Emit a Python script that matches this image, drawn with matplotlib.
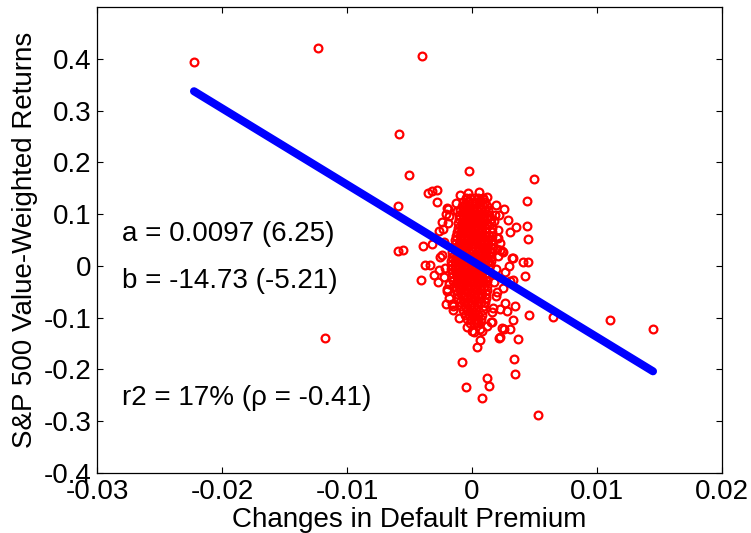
import numpy as np
import matplotlib
matplotlib.use("Agg")
import matplotlib.pyplot as plt

plt.rcParams["font.family"] = ["Liberation Sans", "DejaVu Sans"]

# ---- regression results shown on the chart ----
alpha, alpha_t = 0.0097, 6.25
beta, beta_t = -14.73, -5.21
r2_pct, rho = 17, -0.41

# ---- scattered observations (change in default premium, S&P 500 VW return) ----
dp_out = [-0.02224, -0.01232, -0.00400, -0.00584, -0.00504, -0.01176, -0.00352, -0.00320,
          -0.00280, -0.00592, -0.00592, -0.00552, -0.00392, -0.00320, -0.00264, -0.00240,
          -0.00184, -0.00192, -0.00128, -0.00096, -0.00024, 0.00024, 0.00088, 0.00072,
          0.00120, -0.00056, -0.00120, -0.00256, -0.00376, -0.00336, -0.00408, -0.00304,
          -0.00272, -0.00200, -0.00264, -0.00208, -0.00160, -0.00152, -0.00080, -0.00048,
          0.00080, 0.00120, 0.00136, 0.00000, 0.00064, 0.00040, 0.00160, 0.00224,
          0.00256, 0.00304, 0.00328, 0.00368, 0.00336, 0.00344, 0.00528, 0.00456,
          0.00648, 0.00424, 0.00448, 0.00304, 0.00208, 0.00408, 0.00448, 0.00328,
          0.00296, 0.00264, 0.00304, 0.00344, 0.00280, 0.00224, 0.00168, 0.00152,
          0.00048, 0.00024, 0.00496, 0.00440, 0.00256, 0.00440, 0.00352, 0.00240,
          0.00320, 0.00328, 0.01104, 0.01448, 0.00264, 0.00200, 0.00224, 0.00248,
          0.00248, 0.00200, 0.00240, 0.00216, 0.00032, -0.00204, -0.00072, -0.00280,
          0.00180, 0.00290]
ret_out = [0.394, 0.420, 0.406, 0.255, 0.175, -0.139, 0.140, 0.144,
           0.146, 0.115, 0.028, 0.030, 0.038, 0.042, 0.067, 0.084,
           0.096, 0.109, 0.121, 0.137, 0.183, 0.123, 0.129, 0.109,
           0.080, 0.119, 0.106, 0.018, 0.001, 0.001, -0.028, -0.018,
           -0.032, -0.044, -0.007, -0.073, -0.073, -0.078, -0.185, -0.234,
           -0.255, -0.216, -0.232, -0.125, -0.144, -0.156, -0.109, -0.137,
           -0.121, -0.121, -0.104, -0.141, -0.179, -0.208, -0.288, -0.094,
           -0.098, -0.020, 0.051, 0.065, 0.053, 0.007, 0.007, 0.015,
           -0.001, -0.011, -0.030, -0.077, -0.088, -0.084, -0.082, -0.108,
           -0.104, -0.092, 0.168, 0.125, 0.109, 0.078, 0.075, 0.028,
           0.015, -0.028, -0.104, -0.121, -0.071, 0.053, 0.030, 0.026,
           -0.042, -0.051, -0.119, -0.139, -0.108, 0.111, 0.108, 0.123,
           0.098, 0.088]

# ---- observations on the rim of the dense core ----
dp_edge = [-0.00210, -0.00232, -0.00221, -0.00242, -0.00213, -0.00224, -0.00201, -0.00183,
           -0.00152, -0.00108, 0.00193, 0.00212, 0.00204, 0.00222, 0.00209, 0.00191,
           0.00178, 0.00188, 0.00161, 0.00118, 0.00082, -0.00031, 0.00052, 0.00121,
           -0.00042, 0.00019, 0.00061, -0.00196, 0.00201, -0.00187, 0.00172]
ret_edge = [0.100, 0.071, 0.046, 0.021, -0.004, -0.021, -0.049, -0.062,
            -0.085, -0.100, 0.118, 0.099, 0.069, 0.044, 0.019, -0.006,
            -0.031, -0.058, -0.089, -0.116, -0.126, 0.141, 0.143, 0.134,
            -0.118, -0.128, -0.121, 0.083, 0.033, -0.035, 0.086]

# ---- dense core of observations around zero, row by row (return, [premium changes]) ----
core_rows = [
    (0.131, [-0.00050, -0.00018, 0.00015, 0.00047, 0.00088]),
    (0.123, [-0.00071, -0.00036, 0.00002, 0.00031, 0.00066, 0.00105]),
    (0.115, [-0.00083, -0.00049, -0.00015, 0.00019, 0.00052, 0.00084, 0.00118]),
    (0.107, [-0.00094, -0.00060, -0.00027, 0.00008, 0.00040, 0.00071, 0.00101, 0.00129]),
    (0.098, [-0.00102, -0.00069, -0.00035, -0.00001, 0.00033, 0.00066, 0.00098, 0.00136]),
    (0.090, [-0.00106, -0.00075, -0.00043, -0.00011, 0.00022, 0.00054, 0.00087, 0.00118, 0.00148]),
    (0.083, [-0.00113, -0.00079, -0.00046, -0.00014, 0.00019, 0.00051, 0.00083, 0.00116, 0.00151]),
    (0.074, [-0.00116, -0.00083, -0.00050, -0.00018, 0.00015, 0.00048, 0.00080, 0.00113, 0.00157]),
    (0.066, [-0.00121, -0.00088, -0.00056, -0.00022, 0.00011, 0.00044, 0.00077, 0.00110, 0.00158]),
    (0.058, [-0.00128, -0.00095, -0.00062, -0.00029, 0.00004, 0.00037, 0.00069, 0.00102, 0.00133, 0.00160]),
    (0.050, [-0.00133, -0.00099, -0.00066, -0.00033, 0.00000, 0.00033, 0.00066, 0.00099, 0.00131, 0.00162]),
    (0.042, [-0.00140, -0.00106, -0.00072, -0.00039, -0.00006, 0.00027, 0.00060, 0.00093, 0.00126, 0.00159]),
    (0.034, [-0.00148, -0.00114, -0.00080, -0.00046, -0.00012, 0.00021, 0.00055, 0.00088, 0.00122, 0.00157]),
    (0.026, [-0.00157, -0.00124, -0.00090, -0.00056, -0.00023, 0.00011, 0.00045, 0.00078, 0.00112, 0.00145, 0.00163]),
    (0.018, [-0.00161, -0.00127, -0.00093, -0.00059, -0.00026, 0.00008, 0.00042, 0.00076, 0.00110, 0.00148]),
    (0.010, [-0.00168, -0.00134, -0.00100, -0.00066, -0.00032, 0.00002, 0.00036, 0.00070, 0.00104, 0.00130, 0.00151]),
    (0.002, [-0.00170, -0.00136, -0.00102, -0.00068, -0.00034, 0.00000, 0.00034, 0.00068, 0.00102, 0.00140]),
    (-0.006, [-0.00169, -0.00135, -0.00101, -0.00067, -0.00033, 0.00001, 0.00035, 0.00069, 0.00103, 0.00137]),
    (-0.014, [-0.00163, -0.00129, -0.00095, -0.00061, -0.00027, 0.00007, 0.00041, 0.00075, 0.00109, 0.00131]),
    (-0.022, [-0.00158, -0.00124, -0.00090, -0.00056, -0.00022, 0.00012, 0.00046, 0.00080, 0.00114, 0.00128]),
    (-0.030, [-0.00150, -0.00117, -0.00083, -0.00049, -0.00015, 0.00019, 0.00053, 0.00087, 0.00121]),
    (-0.038, [-0.00141, -0.00108, -0.00074, -0.00040, -0.00006, 0.00028, 0.00062, 0.00096, 0.00119]),
    (-0.046, [-0.00131, -0.00097, -0.00063, -0.00029, 0.00005, 0.00039, 0.00073, 0.00117]),
    (-0.054, [-0.00121, -0.00087, -0.00053, -0.00019, 0.00015, 0.00049, 0.00083, 0.00112]),
    (-0.062, [-0.00110, -0.00076, -0.00042, -0.00008, 0.00026, 0.00060, 0.00108]),
    (-0.070, [-0.00099, -0.00065, -0.00031, 0.00003, 0.00037, 0.00071, 0.00102]),
    (-0.078, [-0.00088, -0.00054, -0.00020, 0.00014, 0.00048, 0.00097]),
    (-0.086, [-0.00072, -0.00038, -0.00004, 0.00030, 0.00089]),
    (-0.094, [-0.00058, -0.00024, 0.00010, 0.00044, 0.00080]),
    (-0.102, [-0.00040, -0.00006, 0.00028, 0.00068]),
    (-0.110, [-0.00020, 0.00014, 0.00048]),
]

xticks = [-0.03, -0.02, -0.01, 0, 0.01, 0.02]
yticks = [-0.4, -0.3, -0.2, -0.1, 0, 0.1, 0.2, 0.3, 0.4]

# ---------------------------------------------------------------------------
dp = list(dp_out) + list(dp_edge)
ret = list(ret_out) + list(ret_edge)
for r, xs in core_rows:
    dp += xs
    ret += [r] * len(xs)
dp = np.array(dp)
ret = np.array(ret)

fig = plt.figure(figsize=(7.51, 5.33), dpi=100)
ax = fig.add_axes([97 / 751, 60 / 533, 625 / 751, 466 / 533])

ax.plot(dp, ret, "o", linestyle="none", markerfacecolor="none",
        markeredgecolor="#ff0000", markersize=5.6, markeredgewidth=1.6)

# fitted line over the data range
x_fit = np.array([dp.min(), dp.max()])
ax.plot(x_fit, alpha + beta * x_fit, color="#0000ff", linewidth=5.8,
        solid_capstyle="round")

ax.set_xlim(-0.03, 0.02)
ax.set_ylim(-0.4, 0.5)
ax.set_xticks(xticks)
ax.set_xticklabels(["-0.03", "-0.02", "-0.01", "0", "0.01", "0.02"])
ax.set_yticks(yticks)
ax.set_yticklabels(["-0.4", "-0.3", "-0.2", "-0.1", "0", "0.1", "0.2", "0.3", "0.4"])
ax.tick_params(direction="in", length=4, width=0.8, labelsize=20,
               top=True, right=True, pad=4)
for sp in ax.spines.values():
    sp.set_linewidth(0.9)

ax.set_xlabel("Changes in Default Premium", fontsize=20, labelpad=2)
ax.set_ylabel("S&P 500 Value-Weighted Returns", fontsize=20, labelpad=4)

ax.text(-0.02802, 0.061, f"a = {alpha:.4f} ({alpha_t:.2f})", fontsize=20, va="center")
ax.text(-0.02802, -0.030, f"b = {beta:.2f} ({beta_t:.2f})", fontsize=20, va="center")
ax.text(-0.02802, -0.255, f"r2 = {r2_pct}% (\u03c1 = {rho:.2f})", fontsize=20, va="center")

fig.savefig("out.png", dpi=100)
